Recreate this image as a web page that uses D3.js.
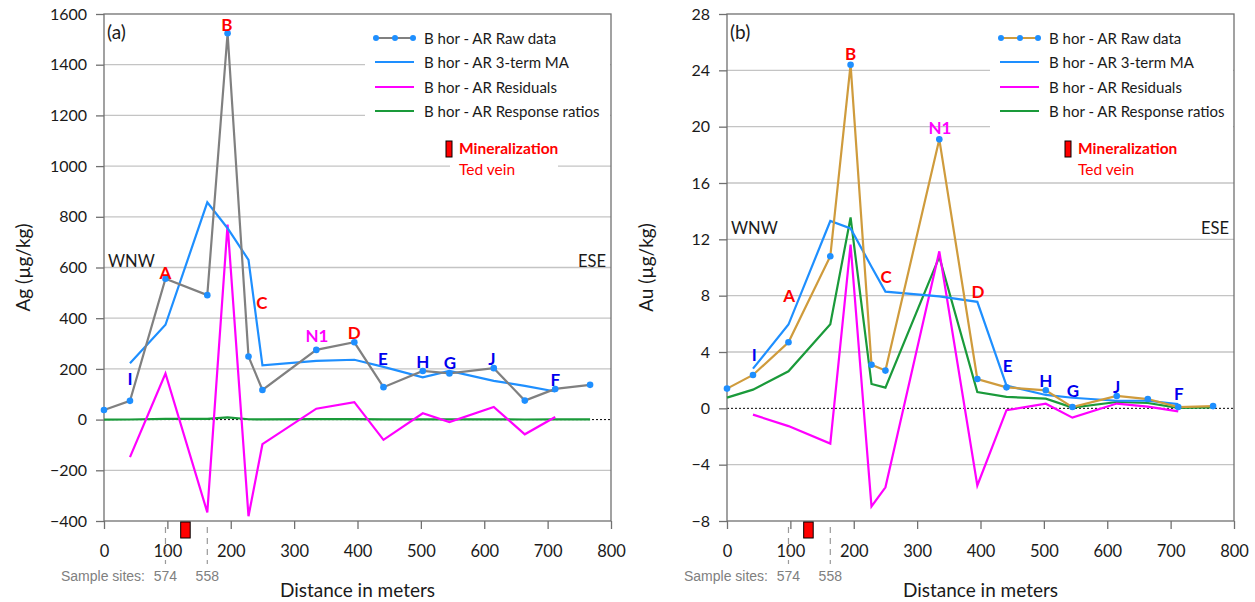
<!DOCTYPE html>
<html>
<head>
<meta charset="utf-8">
<script src="https://cdn.jsdelivr.net/npm/d3@7"></script>
<style>
  body { margin: 0; background: #fff; }
  text { font-family: Lato, "Open Sans", sans-serif; fill: #1a1a1a; }
</style>
</head>
<body>
<script>
var width = 1255,
    height = 602

// sample distances along the traverse (m)
var distance = [0, 41, 97, 163, 195, 228, 250, 335, 395, 441, 503, 545, 615, 664, 712, 767];

// (a) Ag, ug/kg
var agRaw   = [38, 74, 556, 491, 1524, 249, 117, 275, 305, 128, 192, 182, 203, 75, 121, 137];
var agMA    = [null, 222, 374, 857, 755, 630, 214, 232, 236, 208, 167, 192, 153, 133, 111, null];
var agResid = [null, -148, 182, -366, 769, -381, -97, 43, 69, -80, 25, -10, 50, -58, 10, null];
var agRatio = [0.2, 0.4, 3.1, 2.7, 8.4, 1.4, 0.6, 1.5, 1.7, 0.7, 1.1, 1.0, 1.1, 0.4, 0.7, 0.8];

// (b) Au, ug/kg
var auRaw   = [1.4, 2.37, 4.69, 10.8, 24.4, 3.1, 2.68, 19.1, 2.08, 1.49, 1.28, 0.09, 0.88, 0.66, 0.09, 0.16];
var auMA    = [null, 2.82, 5.95, 13.3, 12.77, 10.06, 8.29, 7.95, 7.56, 1.62, 0.95, 0.75, 0.54, 0.54, 0.30, null];
var auResid = [null, -0.45, -1.26, -2.5, 11.63, -6.96, -5.61, 11.15, -5.48, -0.13, 0.33, -0.66, 0.34, 0.12, -0.21, null];
var auRatio = [0.76, 1.33, 2.63, 5.97, 13.55, 1.73, 1.47, 10.75, 1.16, 0.81, 0.69, 0.05, 0.45, 0.38, 0.03, 0.06];

// anomaly letters: text, colour group, distance, value where the letter sits
var pointLabels = ["I", "A", "B", "C", "N1", "D", "E", "H", "G", "J", "F"];
var labelKinds  = ["low", "high", "high", "high", "nugget", "high", "low", "low", "low", "low", "low"];
var agLabelX = [41, 97, 194, 249, 336, 395, 440, 503, 546, 612, 712];
var agLabelY = [161, 579, 1557, 460, 330, 342, 242, 229, 225, 242, 157];
var auLabelX = [43, 98, 195, 251, 336, 396, 443, 503, 546, 615, 713];
var auLabelY = [3.82, 8.03, 25.2, 9.38, 19.92, 8.27, 3.06, 1.99, 1.28, 1.56, 1.04];

var seriesNames = ["B hor - AR Raw data", "B hor - AR 3-term MA", "B hor - AR Residuals", "B hor - AR Response ratios"];
var distTicks = [0, 100, 200, 300, 400, 500, 600, 700, 800];
var agTicks = [-400, -200, 0, 200, 400, 600, 800, 1000, 1200, 1400, 1600];
var auTicks = [-8, -4, 0, 4, 8, 12, 16, 20, 24, 28];

var siteNames = ["574", "558"];
var siteDist = [97, 163];
var veinZone = [121, 136];

var kindColor = {low: "#0000ee", high: "#ff0000", nugget: "#ff00ff"};

var svg = d3.select("body").append("svg")
    .attr("width", width)
    .attr("height", height);

var top_ = 14, bottom = 521;

function drawPanel(p) {
    var x = d3.scaleLinear().domain([0, 800]).range([p.left, p.right]);
    var y = d3.scaleLinear().domain([p.ticks[0], p.ticks[p.ticks.length - 1]]).range([bottom, top_]);
    var g = svg.append("g");

    // horizontal gridlines
    g.selectAll(".grid").data(p.ticks.slice(1, -1).filter(function(v) { return v != 0; }))
        .enter().append("line")
        .attr("x1", p.left).attr("x2", p.right)
        .attr("y1", function(d) { return y(d); })
        .attr("y2", function(d) { return y(d); })
        .attr("stroke", "#c4c4c4").attr("stroke-width", 1.3);

    // legend and note boxes hide the grid behind them
    g.append("rect").attr("x", p.legendX - 10).attr("y", 22)
        .attr("width", p.right - p.legendX + 9).attr("height", 106).attr("fill", "#fff");
    g.append("rect").attr("x", p.noteX + 4).attr("y", 132)
        .attr("width", 108).attr("height", 46).attr("fill", "#fff");

    // zero line
    g.append("line")
        .attr("x1", p.left).attr("x2", p.right)
        .attr("y1", y(0)).attr("y2", y(0))
        .attr("stroke", "#000").attr("stroke-width", 1).attr("stroke-dasharray", "2,2");

    // axes
    var yAxis = d3.axisLeft(y).tickValues(p.ticks).tickSize(8).tickPadding(9)
        .tickFormat(d3.format("d"));
    g.append("g").attr("transform", "translate(" + p.left + ",0)").call(yAxis)
        .call(function(a) {
            a.select(".domain").remove();
            a.selectAll("line").attr("stroke", "#707070").attr("stroke-width", 1.3);
            a.selectAll("text").style("font-size", "16px").attr("fill", "#1a1a1a")
                .style("font-family", "Lato, sans-serif");
        });
    var xAxis = d3.axisBottom(x).tickValues(distTicks).tickSize(8).tickPadding(16);
    g.append("g").attr("transform", "translate(0," + bottom + ")").call(xAxis)
        .call(function(a) {
            a.select(".domain").remove();
            a.selectAll("line").attr("stroke", "#707070").attr("stroke-width", 1.3);
            a.selectAll("text").style("font-size", "16.5px").attr("fill", "#1a1a1a")
                .style("font-family", "Lato, sans-serif");
        });

    // frame
    g.append("rect").attr("x", p.left).attr("y", top_)
        .attr("width", p.right - p.left).attr("height", bottom - top_)
        .attr("fill", "none").attr("stroke", "#707070").attr("stroke-width", 1.3);

    // series
    function line(vals) {
        return d3.line()
            .defined(function(d) { return d != null; })
            .x(function(d, i) { return x(distance[i]); })
            .y(function(d) { return y(d); })(vals);
    }
    var styles = [
        {vals: p.ratio, color: "#1a9a3a"},
        {vals: p.resid, color: "#ff00ff"},
        {vals: p.ma, color: "#1e8fff"},
        {vals: p.raw, color: p.rawColor}
    ];
    styles.forEach(function(s) {
        g.append("path").attr("d", line(s.vals))
            .attr("fill", "none").attr("stroke", s.color)
            .attr("stroke-width", 2.2).attr("stroke-linejoin", "miter");
    });
    g.selectAll(".dot").data(p.raw).enter().append("circle")
        .attr("cx", function(d, i) { return x(distance[i]); })
        .attr("cy", function(d) { return y(d); })
        .attr("r", 3.3).attr("fill", "#1e8fff");

    // anomaly letters
    g.selectAll(".lab").data(pointLabels).enter().append("text")
        .attr("x", function(d, i) { return x(p.labelX[i]); })
        .attr("y", function(d, i) { return y(p.labelY[i]); })
        .attr("text-anchor", "middle").attr("dominant-baseline", "central")
        .style("font-size", "17px").style("font-weight", "bold")
        .style("fill", function(d, i) { return kindColor[labelKinds[i]]; })
        .text(function(d) { return d; });

    // legend
    var colors = [p.rawColor, "#1e8fff", "#ff00ff", "#1a9a3a"];
    var ly = [38, 62, 87, 111];
    seriesNames.forEach(function(name, i) {
        g.append("line").attr("x1", p.legendX).attr("x2", p.legendX + 39)
            .attr("y1", ly[i]).attr("y2", ly[i])
            .attr("stroke", colors[i]).attr("stroke-width", 2.2);
        if (i == 0) {
            [1, 20, 38].forEach(function(dx) {
                g.append("circle").attr("cx", p.legendX + dx).attr("cy", ly[i])
                    .attr("r", 3).attr("fill", "#1e8fff");
            });
        }
        g.append("text").attr("x", p.legendX + 49).attr("y", ly[i])
            .attr("dominant-baseline", "central")
            .style("font-size", "15px").text(name);
    });

    // mineralization note
    g.append("rect").attr("x", p.noteX).attr("y", 141).attr("width", 6).attr("height", 16)
        .attr("fill", "#ff0000").attr("stroke", "#000").attr("stroke-width", 1);
    g.append("text").attr("x", p.noteX + 13).attr("y", 148).attr("dominant-baseline", "central")
        .style("font-size", "15.5px").style("font-weight", "bold").style("fill", "#ff0000")
        .text("Mineralization");
    g.append("text").attr("x", p.noteX + 13).attr("y", 169).attr("dominant-baseline", "central")
        .style("font-size", "15.5px").style("fill", "#ff0000").text("Ted vein");

    // panel tag and directions
    g.append("text").attr("x", p.left + 3).attr("y", 39).style("font-size", "19px").text(p.tag);
    g.append("text").attr("x", p.left + 4).attr("y", p.dirY).style("font-size", "16.5px").text("WNW");
    g.append("text").attr("x", p.right - 5).attr("y", p.dirY).attr("text-anchor", "end")
        .style("font-size", "16.5px").text("ESE");

    // vein position and sample sites under the axis
    g.append("rect").attr("x", x(veinZone[0])).attr("y", 522)
        .attr("width", x(veinZone[1]) - x(veinZone[0])).attr("height", 16)
        .attr("fill", "#ff0000").attr("stroke", "#000").attr("stroke-width", 1);
    siteDist.forEach(function(d, i) {
        g.append("line").attr("x1", x(d)).attr("x2", x(d)).attr("y1", 527).attr("y2", 564)
            .attr("stroke", "#9a9a9a").attr("stroke-width", 1.2).attr("stroke-dasharray", "6,5");
        g.append("text").attr("x", x(d)).attr("y", 581).attr("text-anchor", "middle")
            .style("font-family", "'Liberation Sans Narrow', 'Arial Narrow', sans-serif")
            .style("font-size", "14px").style("fill", "#808080").text(siteNames[i]);
    });
    g.append("text").attr("x", p.left + 41).attr("y", 581).attr("text-anchor", "end")
        .style("font-family", "'Liberation Sans Narrow', 'Arial Narrow', sans-serif")
        .style("font-size", "14px").style("fill", "#808080").text("Sample sites:");

    // axis titles
    g.append("text").attr("x", x(400)).attr("y", 597).attr("text-anchor", "middle")
        .style("font-size", "19px").text("Distance in meters");
    g.append("text")
        .attr("transform", "translate(" + (p.left - 82) + "," + ((top_ + bottom) / 2) + ") rotate(-90)")
        .attr("text-anchor", "middle").attr("dominant-baseline", "central")
        .style("font-size", "19px").text(p.yTitle);
}

drawPanel({
    left: 104, right: 611, ticks: agTicks, tag: "(a)", yTitle: "Ag (\u00b5g/kg)",
    raw: agRaw, ma: agMA, resid: agResid, ratio: agRatio, rawColor: "#808080",
    labelX: agLabelX, labelY: agLabelY, legendX: 375, noteX: 446, dirY: 267
});
drawPanel({
    left: 727, right: 1234, ticks: auTicks, tag: "(b)", yTitle: "Au (\u00b5g/kg)",
    raw: auRaw, ma: auMA, resid: auResid, ratio: auRatio, rawColor: "#cf9b3c",
    labelX: auLabelX, labelY: auLabelY, legendX: 1000, noteX: 1065, dirY: 234
});
</script>
</body>
</html>
